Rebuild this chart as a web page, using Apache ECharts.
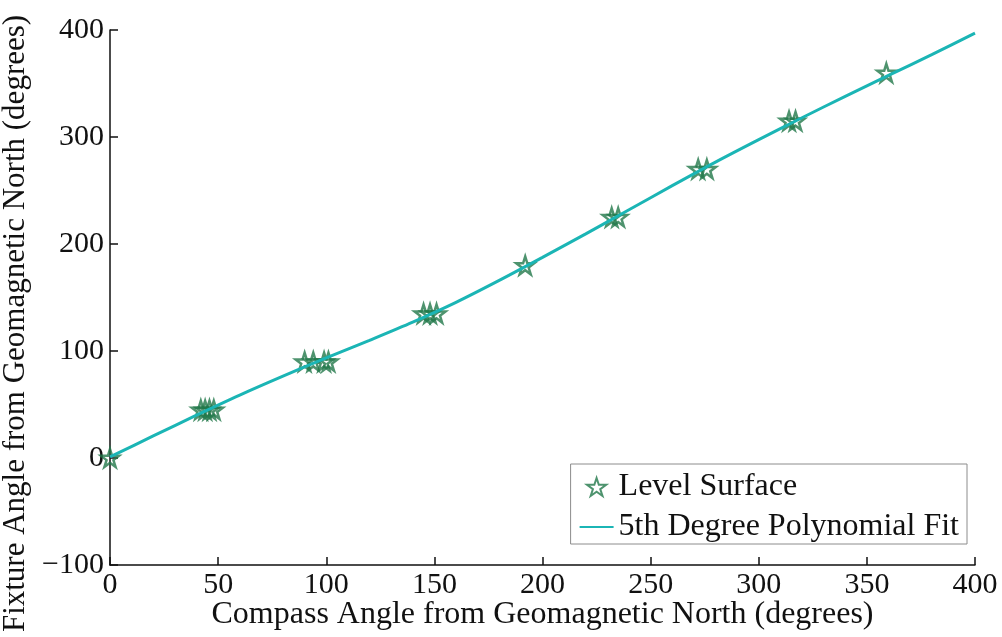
<!DOCTYPE html>
<html>
<head>
<meta charset="utf-8">
<script src="https://cdn.jsdelivr.net/npm/echarts@6/dist/echarts.min.js"></script>
<style>
  html, body { margin: 0; padding: 0; background: #fff; }
  #chart { width: 1002px; height: 637px; }
</style>
</head>
<body>
<div id="chart"></div>
<script>
// Measured compass readings (x) against fixture angle (y) on a level surface
const compassAngle = [0, 42, 44, 46, 48, 90, 94, 99, 101, 145, 148, 151, 192, 232, 235, 272, 276, 314, 317, 359];
const fixtureAngle = [0, 45, 45, 45, 45, 90, 90, 90, 90, 135, 135, 135, 180, 225, 225, 270, 270, 315, 315, 360];

// 5th degree polynomial fit sampled along the compass axis
const fitX = [0, 20, 40, 60, 80, 100, 120, 140, 160, 180, 200, 220, 240, 260, 280, 300, 320, 340, 360, 380, 400];
const fitY = [1, 20.6, 40, 58.8, 76.5, 93.5, 110, 127, 145.5, 166, 187.5, 209.5, 232, 254.5, 276.5, 297.5, 318, 338, 357.5, 377, 397];

const xTicks = [0, 50, 100, 150, 200, 250, 300, 350, 400];
const yTicks = [-100, 0, 100, 200, 300, 400];

const starPath = 'path://M50,2 L61.2,36.2 L97.6,36.2 L68.2,57.4 L79.4,91.6 L50,70.4 L20.6,91.6 L31.8,57.4 L2.4,36.2 L38.8,36.2 Z';
const serif = '"Liberation Serif", "Times New Roman", serif';
const ink = '#111';
const starColor = '#22784a';
const fitColor = '#1bb5b5';

const chart = echarts.init(document.getElementById('chart'));
chart.setOption({
  animation: false,
  backgroundColor: '#fff',
  grid: { left: 110, right: 27, top: 30, bottom: 72, outerBoundsMode: 'none', containLabel: false },
  legend: {
    orient: 'vertical',
    right: 35,
    top: 464,
    itemGap: 8,
    itemWidth: 34,
    itemHeight: 18,
    padding: [7, 8, 1, 8],
    borderColor: '#8c8c8c',
    borderWidth: 1,
    backgroundColor: '#fff',
    textStyle: { fontFamily: serif, fontSize: 32, color: ink },
    data: [
      { name: 'Level Surface', icon: starPath },
      { name: '5th Degree Polynomial Fit', itemStyle: { opacity: 0 } }
    ]
  },
  xAxis: {
    type: 'value',
    min: xTicks[0],
    max: xTicks[xTicks.length - 1],
    interval: 50,
    name: 'Compass Angle from Geomagnetic North (degrees)',
    nameLocation: 'middle',
    nameGap: 34,
    nameMoveOverlap: false,
    nameTextStyle: { fontFamily: serif, fontSize: 32, color: ink },
    axisLine: { onZero: false, lineStyle: { color: ink, width: 1.5 } },
    axisTick: { inside: true, length: 8, lineStyle: { color: ink, width: 1.5 } },
    axisLabel: { fontFamily: serif, fontSize: 30, color: ink, margin: 5 },
    splitLine: { show: false }
  },
  yAxis: {
    type: 'value',
    min: yTicks[0],
    max: yTicks[yTicks.length - 1],
    interval: 100,
    name: 'Fixture Angle from Geomagnetic North (degrees)',
    nameLocation: 'middle',
    nameGap: 79,
    nameRotate: 90,
    nameTextStyle: { fontFamily: serif, fontSize: 31, color: ink, padding: [0, 52, 0, 0] },
    axisLine: { show: true, onZero: false, lineStyle: { color: ink, width: 1.5 } },
    axisTick: { show: true, inside: true, length: 8, lineStyle: { color: ink, width: 1.5 } },
    axisLabel: {
      fontFamily: serif, fontSize: 30, color: ink, margin: 6,
      formatter: v => String(v).replace('-', '\u2212')
    },
    splitLine: { show: false }
  },
  series: [
    {
      name: 'Level Surface',
      type: 'scatter',
      symbol: starPath,
      symbolSize: 18,
      z: 3,
      itemStyle: { color: 'rgba(255,255,255,0)', borderColor: starColor, borderWidth: 2.5 },
      data: compassAngle.map((x, i) => [x, fixtureAngle[i]])
    },
    {
      name: '5th Degree Polynomial Fit',
      type: 'line',
      smooth: 0.3,
      showSymbol: false,
      symbol: 'none',
      z: 4,
      lineStyle: { color: fitColor, width: 3 },
      itemStyle: { color: fitColor },
      data: fitX.map((x, i) => [x, fitY[i]])
    }
  ]
});
</script>
</body>
</html>
